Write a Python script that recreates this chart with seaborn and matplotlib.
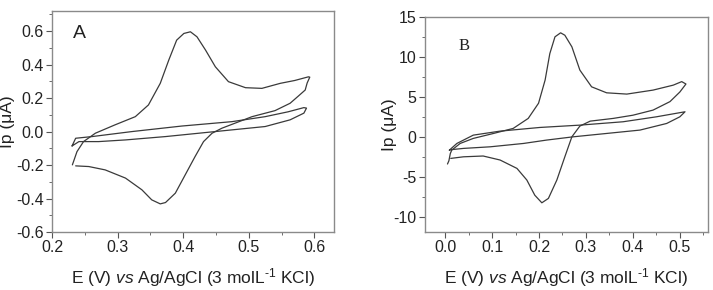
import pandas as pd
import matplotlib
matplotlib.use('Agg')
import matplotlib.pyplot as plt
from matplotlib.ticker import MultipleLocator
import seaborn as sns

sns.set_theme(style='white')
plt.rcParams['font.family'] = ['Liberation Sans', 'DejaVu Sans']
plt.rcParams['mathtext.fontset'] = 'custom'
plt.rcParams['mathtext.rm'] = 'Liberation Sans'
plt.rcParams['mathtext.it'] = 'Liberation Sans:italic'

# panel A, sample voltammogram (E in V, I in uA)
a_cv_e = [0.231, 0.238, 0.248, 0.266, 0.296, 0.327, 0.347, 0.365, 0.378, 0.390, 0.401,
          0.411, 0.421, 0.434, 0.449, 0.469, 0.495, 0.520, 0.548, 0.570, 0.591, 0.593,
          0.589, 0.586, 0.575, 0.563, 0.540, 0.505, 0.459, 0.444, 0.431, 0.418, 0.403,
          0.388, 0.373, 0.365, 0.352, 0.337, 0.312, 0.281, 0.256, 0.236]
a_cv_i = [-0.199, -0.12, -0.06, -0.01, 0.04, 0.089, 0.159, 0.288, 0.427, 0.546, 0.586,
          0.596, 0.566, 0.487, 0.387, 0.298, 0.262, 0.258, 0.288, 0.305, 0.327, 0.325,
          0.29, 0.248, 0.21, 0.169, 0.125, 0.089, 0.02, -0.01, -0.06, -0.15, -0.259,
          -0.368, -0.424, -0.432, -0.408, -0.348, -0.278, -0.229, -0.209, -0.205]
# panel A, blank
a_bl_e = [0.2305, 0.236, 0.261, 0.322, 0.398, 0.474, 0.525, 0.560, 0.584, 0.588, 0.586,
          0.584, 0.563, 0.525, 0.449, 0.373, 0.312, 0.271, 0.241, 0.2305]
a_bl_i = [-0.086, -0.04, -0.03, 0.0, 0.033, 0.059, 0.089, 0.118, 0.143, 0.14, 0.125,
          0.11, 0.07, 0.03, 0.0, -0.03, -0.05, -0.06, -0.06, -0.086]

# panel B, sample voltammogram
b_cv_e = [0.012, 0.039, 0.081, 0.117, 0.153, 0.174, 0.191, 0.206, 0.220, 0.238, 0.255,
          0.270, 0.287, 0.309, 0.358, 0.400, 0.443, 0.479, 0.500, 0.513, 0.504, 0.486,
          0.443, 0.387, 0.344, 0.312, 0.287, 0.270, 0.255, 0.246, 0.234, 0.223, 0.213,
          0.199, 0.177, 0.145, 0.103, 0.060, 0.032, 0.014, 0.011, 0.008, 0.005]
b_cv_i = [-2.7, -2.5, -2.4, -2.9, -3.95, -5.4, -7.3, -8.25, -7.7, -5.4, -2.5,
          0.0, 1.34, 1.96, 2.3, 2.7, 3.34, 4.4, 5.6, 6.6, 6.9, 6.46,
          5.84, 5.34, 5.5, 6.25, 8.34, 11.25, 12.7, 13.0, 12.5, 10.4, 7.1,
          4.2, 2.3, 1.05, 0.42, -0.2, -0.83, -1.67, -2.1, -3.0, -3.4]
# panel B, blank
b_bl_e = [0.009, 0.025, 0.060, 0.117, 0.202, 0.287, 0.379, 0.450, 0.511, 0.500, 0.472,
          0.415, 0.344, 0.273, 0.216, 0.167, 0.096, 0.039, 0.014, 0.009]
b_bl_i = [-1.67, -0.83, 0.21, 0.71, 1.17, 1.46, 1.88, 2.5, 3.13, 2.5, 1.67,
          0.84, 0.42, 0.0, -0.41, -0.83, -1.25, -1.45, -1.6, -1.67]


def frame(e, i, name):
    return pd.DataFrame({'E': e, 'I': i, 'curve': name})


dfa = pd.concat([frame(a_cv_e, a_cv_i, 'cv'), frame(a_bl_e, a_bl_i, 'blank')])
dfb = pd.concat([frame(b_cv_e, b_cv_i, 'cv'), frame(b_bl_e, b_bl_i, 'blank')])

fig = plt.figure(figsize=(7.13, 2.9), dpi=100)
ax1 = fig.add_axes([0.073, 0.2, 0.3955, 0.762])
ax2 = fig.add_axes([0.596, 0.2, 0.397, 0.742])

line_col = '#3a3a3a'
text_col = '#222222'
xlabel = r'E (V) $\it{vs}$ Ag/AgCl (3 molL$^{\text{-1}}$ KCl)'

for ax, df in [(ax1, dfa), (ax2, dfb)]:
    sns.lineplot(data=df, x='E', y='I', units='curve', estimator=None, sort=False,
                 color=line_col, lw=0.9, ax=ax, solid_joinstyle='round')
    for s in ax.spines.values():
        s.set_color('#8a8a8a')
        s.set_linewidth(1.0)
    ax.tick_params(which='both', direction='out', color='#555555', labelsize=11.5,
                   labelcolor=text_col, bottom=True, left=True, pad=2)
    ax.tick_params(which='major', length=4, width=0.8)
    ax.tick_params(which='minor', length=2, width=0.6)
    ax.set_xlabel(xlabel, fontsize=12.5, color=text_col, labelpad=8)
    ax.set_ylabel('Ip (μA)', fontsize=12.5, color=text_col)

ax1.yaxis.set_label_coords(-0.13, 0.5)
ax2.yaxis.set_label_coords(-0.097, 0.5)

ax1.set_xlim(0.2, 0.63)
ax1.set_ylim(-0.6, 0.72)
ax1.xaxis.set_minor_locator(MultipleLocator(0.05))
ax1.yaxis.set_minor_locator(MultipleLocator(0.1))
ax1.set_xticks([0.2, 0.3, 0.4, 0.5, 0.6])
ax1.set_xticklabels(['0.2', '0.3', '0.4', '0.5', '0.6'])
ax1.set_yticks([-0.6, -0.4, -0.2, 0.0, 0.2, 0.4, 0.6])
ax1.set_yticklabels(['-0.6', '-0.4', '-0.2', '0.0', '0.2', '0.4', '0.6'])
ax1.text(0.075, 0.9, 'A', transform=ax1.transAxes, fontsize=14, color=text_col,
         va='center')

ax2.set_xlim(-0.043, 0.56)
ax2.set_ylim(-11.9, 15)
ax2.xaxis.set_minor_locator(MultipleLocator(0.05))
ax2.yaxis.set_minor_locator(MultipleLocator(2.5))
ax2.set_xticks([0.0, 0.1, 0.2, 0.3, 0.4, 0.5])
ax2.set_xticklabels(['0.0', '0.1', '0.2', '0.3', '0.4', '0.5'])
ax2.set_yticks([-10, -5, 0, 5, 10, 15])
ax2.set_yticklabels(['-10', '-5', '0', '5', '10', '15'])
ax2.text(0.12, 0.865, 'B', transform=ax2.transAxes, fontsize=12, color=text_col,
         va='center', family='Liberation Serif')

fig.savefig('out.png', dpi=100)
